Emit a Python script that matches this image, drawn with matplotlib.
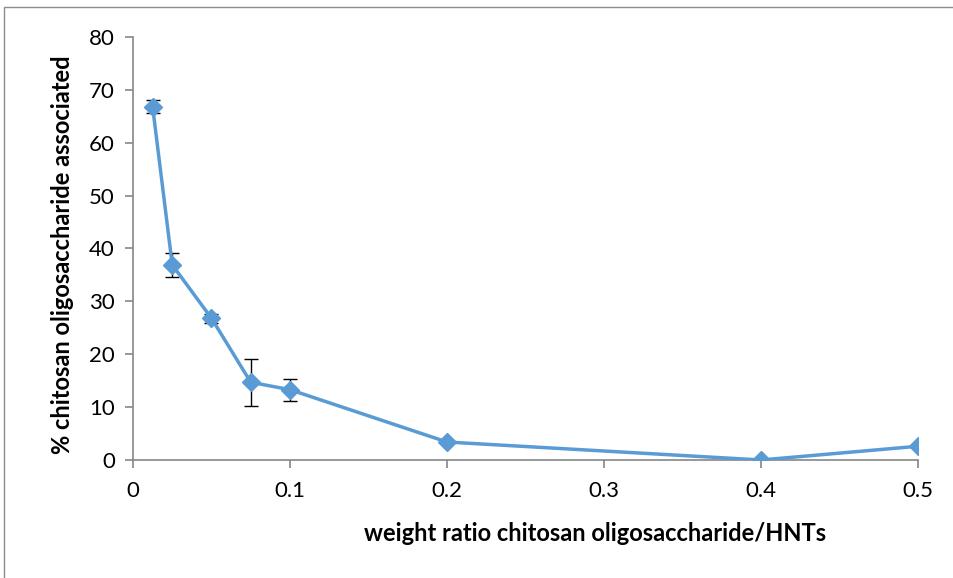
import matplotlib
matplotlib.use("Agg")
import matplotlib.pyplot as plt
from matplotlib.patches import Rectangle

ratio = [0.0125, 0.025, 0.05, 0.075, 0.1, 0.2, 0.4, 0.5]
associated = [66.8, 36.9, 26.8, 14.7, 13.3, 3.4, 0.0, 2.6]
errors = [1.2, 2.3, 0.8, 4.4, 2.1, 0.0, 0.0, 0.0]
x_ticks = [0, 0.1, 0.2, 0.3, 0.4, 0.5]
x_tick_labels = ["0", "0.1", "0.2", "0.3", "0.4", "0.5"]
y_ticks = [0, 10, 20, 30, 40, 50, 60, 70, 80]

plt.rcParams['font.family'] = ['Lato', 'DejaVu Sans']

W, H = 954, 578
fig = plt.figure(figsize=(W/100, H/100), dpi=100)
fig.patches.append(Rectangle((4/W, -0.1), 1.2, (H-7)/H + 0.1, transform=fig.transFigure,
                             fill=False, edgecolor='#8c8c8c', linewidth=1.0))

ax = fig.add_axes([133/W, (H-460)/H, (918-133)/W, (460-37)/H])
blue = '#5B9BD5'
ax.plot(ratio, associated, color=blue, linewidth=2.5, marker='D', markersize=9.5, zorder=3)
ebx = [r for r, e in zip(ratio, errors) if e > 0]
eby = [v for v, e in zip(associated, errors) if e > 0]
ebe = [e for e in errors if e > 0]
ax.errorbar(ebx, eby, yerr=ebe, fmt='none', ecolor='black', elinewidth=1.0, capsize=5, capthick=1.0, zorder=2)

ax.set_xlim(0, 0.5)
ax.set_ylim(0, 80)
ax.set_xticks(x_ticks)
ax.set_xticklabels(x_tick_labels)
ax.set_yticks(y_ticks)
for s in ['top', 'right']:
    ax.spines[s].set_visible(False)
for s in ['left', 'bottom']:
    ax.spines[s].set_color('#868686')
    ax.spines[s].set_linewidth(1.2)
ax.tick_params(axis='both', colors='#868686', length=6, width=1.2, labelcolor='black', labelsize=16)
ax.tick_params(axis='x', pad=9)
ax.tick_params(axis='y', pad=7)

ax.set_xlabel('weight ratio chitosan oligosaccharide/HNTs', fontsize=17, fontweight='bold', va='center')
ax.set_ylabel('% chitosan oligosaccharide associated', fontsize=17, fontweight='bold', va='center')
ax.xaxis.set_label_coords(0.5885, -0.1726)
ax.yaxis.set_label_coords(-0.0892, 0.4846)

fig.savefig('out.png', dpi=100)
